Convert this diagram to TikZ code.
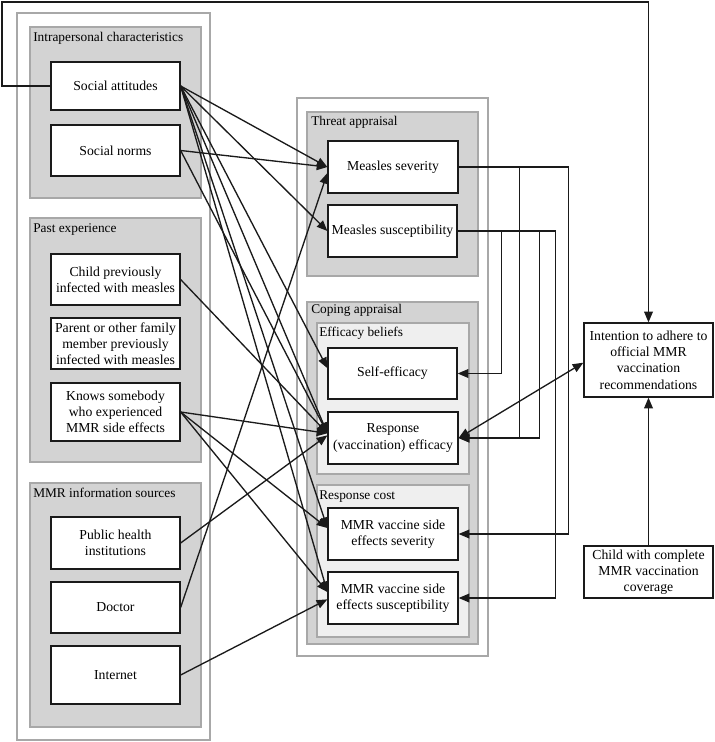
\documentclass[tikz,border=0pt]{standalone}
\usepackage{fontspec}
\setmainfont{Liberation Serif}
\usetikzlibrary{fit,arrows.meta,calc}
\definecolor{grayfill}{HTML}{D3D3D3}
\definecolor{lightfill}{HTML}{EFEFEF}
\definecolor{framec}{HTML}{A8A8A8}
\definecolor{ink}{HTML}{1A1A1A}
\begin{document}
\begin{tikzpicture}[x=0.75pt,y=-0.75pt,
 box/.style={draw=ink, line width=0.95pt, fill=white, inner sep=0pt, align=center, font=\fontsize{10.3}{12.2}\selectfont},
 lbox/.style={box, minimum width=96.75pt},
 mbox/.style={box, minimum width=97.5pt},
 outerc/.style={draw=framec, line width=0.8pt, fill=white, inner sep=0pt},
 groupc/.style={draw=framec, line width=0.8pt, fill=grayfill, inner sep=0pt},
 subgroupc/.style={draw=framec, line width=0.8pt, fill=lightfill, inner sep=0pt},
 ttl/.style={anchor=north west, inner sep=0pt, font=\fontsize{10}{11}\selectfont},
 arr/.style={draw=ink, line width=1pt, -{Triangle[length=8pt,width=6.5pt]}},
 dbl/.style={draw=ink, line width=1pt, {Triangle[length=8pt,width=6.5pt]}-{Triangle[length=8pt,width=6.5pt]}}
]
\useasboundingbox (0,0) rectangle (714,742);

% containers
\node[outerc, fit={(17,13) (210,740)}] (leftc) {};
\node[outerc, fit={(297,98) (488,656)}] (midc) {};
\node[groupc, fit={(30,27) (201,198)}] (g1) {};
\node[groupc, fit={(30,218) (201,462)}] (g2) {};
\node[groupc, fit={(30,483) (201,727)}] (g3) {};
\node[groupc, fit={(307,112) (478,276)}] (g4) {};
\node[groupc, fit={(307,302) (478,644)}] (g5) {};
\node[subgroupc, fit={(317,323) (469,474)}] (g6) {};
\node[subgroupc, fit={(317,485) (469,637)}] (g7) {};

% titles
\node[ttl] (t1) at (33,32) {Intrapersonal characteristics};
\node[ttl] (t2) at (33,223) {Past experience};
\node[ttl] (t3) at (33,488) {MMR information sources};
\node[ttl] (t4) at (311,116) {Threat appraisal};
\node[ttl] (t5) at (311,304) {Coping appraisal};
\node[ttl] (t6) at (319,327) {Efficacy beliefs};
\node[ttl] (t7) at (319,490) {Response cost};

% left boxes
\node[lbox, minimum height=36pt] (sa) at (115.5,86) {Social attitudes};
\node[lbox, minimum height=38.25pt] (sn) at (115.5,150.5) {Social norms};
\node[lbox, minimum height=38.25pt] (cp) at (115.5,279.5) {Child previously\\infected with measles};
\node[lbox, minimum height=38.25pt] (pf) at (115.5,343.5) {Parent or other family\\member previously\\infected with measles};
\node[lbox, minimum height=43.5pt] (ks) at (115.5,412) {Knows somebody\\who experienced\\MMR side effects};
\node[lbox, minimum height=39pt] (ph) at (115.5,543) {Public health\\institutions};
\node[lbox, minimum height=38.25pt] (doc) at (115.5,607.5) {Doctor};
\node[lbox, minimum height=43.5pt] (inet) at (115.5,675) {Internet};

% middle boxes
\node[mbox, minimum height=39pt] (ms) at (393,167) {Measles severity};
\node[lbox, minimum height=39pt] (msus) at (392.5,231) {Measles susceptibility};
\node[lbox, minimum height=38.25pt] (se) at (392.5,373.5) {Self-efficacy};
\node[mbox, minimum height=39pt] (re) at (393,438) {Response\\(vaccination) efficacy};
\node[mbox, minimum height=39pt] (mvsev) at (393,534) {MMR vaccine side\\effects severity};
\node[mbox, minimum height=39pt] (mvsus) at (393,598) {MMR vaccine side\\effects susceptibility};

% right boxes
\node[lbox, minimum height=55.5pt] (int) at (648.5,360) {Intention to adhere to\\official MMR\\vaccination\\recommendations};
\node[lbox, minimum height=39pt] (cc) at (648.5,572) {Child with complete\\MMR vaccination\\coverage};

% loop from social attitudes to intention
\coordinate (corner) at (2,2);
\draw[arr] (sa.west) -| (corner) -| (int.north);
\draw[arr] (cc.north) -- (int.south);

% left to middle
\draw[arr] (sa.east) -- (ms.west);
\draw[arr] (sa.east) -- (msus.west);
\draw[arr] (sa.east) -- ([yshift=4pt]se.west);
\draw[arr] (sa.east) -- ([yshift=3.5pt]re.west);
\draw[arr] (sa.east) -- ([yshift=4.5pt]mvsev.west);
\draw[arr] (sa.east) -- ([yshift=4.5pt]mvsus.west);
\draw[arr] (sn.east) -- (ms.west);
\draw[arr] (sn.east) -- ([yshift=3.5pt]re.west);
\draw[arr] (cp.east) -- ([yshift=3.5pt]re.west);
\draw[arr] (ks.east) -- ([yshift=3.5pt]re.west);
\draw[arr] (ks.east) -- ([yshift=4.5pt]mvsev.west);
\draw[arr] (ks.east) -- ([yshift=4.5pt]mvsus.west);
\draw[arr] (ph.east) -- ([yshift=2pt]re.west);
\draw[arr] (doc.east) -- ([yshift=-4.5pt]ms.west);
\draw[arr] (inet.east) -- ([yshift=-1pt]mvsus.west);

% threat to coping
\draw[arr] (ms.east) -- ++(61,0) |- (re.east);
\draw[arr] (ms.east) -- ++(110,0) |- (mvsev.east);
\draw[arr] (msus.east) -- ++(44,0) |- (se.east);
\draw[arr] (msus.east) -- ++(82,0) |- (re.east);
\draw[arr] (msus.east) -- ++(98,0) |- (mvsus.east);

% response efficacy <-> intention
\draw[dbl] (re.east) -- ([yshift=-2pt]int.west);
\end{tikzpicture}
\end{document}
